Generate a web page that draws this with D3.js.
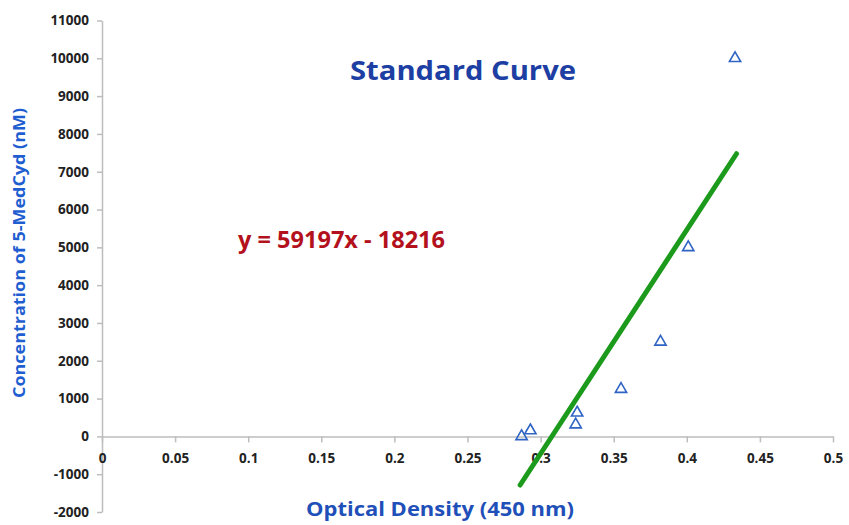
<!DOCTYPE html>
<meta charset="utf-8">
<script src="https://d3js.org/d3.v7.min.js"></script>
<style>
  body { margin: 0; background: #fff; }
  text { font-family: "Open Sans", sans-serif; }
</style>
<body>
<div id="chart"></div>
<script>
  // optical density readings and the matching standards
  var od = [0.287, 0.293, 0.324, 0.325, 0.355, 0.382, 0.401, 0.433];
  var conc = [0, 156, 312, 625, 1250, 2500, 5000, 10000];
  // trendline reported on the chart: y = 59197x - 18216
  var slope = 59197, intercept = -18216;
  var fitRange = [0.286, 0.434];
  var xTicks = [0, 0.05, 0.1, 0.15, 0.2, 0.25, 0.3, 0.35, 0.4, 0.45, 0.5];
  var yTicks = [-2000, -1000, 0, 1000, 2000, 3000, 4000, 5000, 6000, 7000, 8000, 9000, 10000, 11000];

  var W = 849, H = 525;
  var svg = d3.select("#chart").append("svg")
    .attr("width", W).attr("height", H);

  var x = d3.scaleLinear().domain([0, 0.5]).range([102, 833]);
  var y = d3.scaleLinear().domain([-2000, 11000]).range([512, 20.5]);

  // y axis
  var yAxis = svg.append("g")
    .attr("transform", "translate(" + x(0) + ",0)")
    .call(d3.axisLeft(y).tickValues(yTicks).tickSize(5).tickSizeOuter(0).tickFormat(d3.format("d")));
  yAxis.selectAll("text").style("font-size", "13.5px").style("font-weight", "bold").attr("fill", "#222")
    .text(function (d) { return d < 0 ? "-" + Math.abs(d) : d; })
    .attr("x", -13);

  // x axis at y = 0
  var xAxis = svg.append("g")
    .attr("transform", "translate(0," + y(0) + ")")
    .call(d3.axisBottom(x).tickValues(xTicks).tickSize(6).tickSizeOuter(0)
      .tickFormat(function (d) { return String(+d.toFixed(2)); }));
  xAxis.selectAll("text").style("font-size", "13.5px").style("font-weight", "bold").attr("fill", "#222")
    .attr("y", 17);

  svg.selectAll(".domain, .tick line").attr("stroke", "#bdbdbd").attr("stroke-width", 1.5);

  // trendline
  svg.append("line")
    .attr("x1", x(fitRange[0])).attr("y1", y(slope * fitRange[0] + intercept))
    .attr("x2", x(fitRange[1])).attr("y2", y(slope * fitRange[1] + intercept))
    .attr("stroke", "#1b9a1b").attr("stroke-width", 5).attr("stroke-linecap", "round");

  // hollow triangles
  var tri = d3.symbol().type(d3.symbolTriangle).size(55);
  svg.append("g").selectAll("path")
    .data(od.map(function (d, i) { return [d, conc[i]]; }))
    .enter().append("path")
    .attr("d", tri)
    .attr("transform", function (d) { return "translate(" + x(d[0]) + "," + y(d[1]) + ")"; })
    .attr("fill", "none").attr("stroke", "#2f64c4").attr("stroke-width", 1.6);

  // title and equation
  svg.append("text")
    .attr("x", 463).attr("y", 80).attr("text-anchor", "middle")
    .style("font-size", "27px").style("font-weight", "bold").attr("fill", "#1d3fa3")
    .attr("textLength", 226).attr("lengthAdjust", "spacingAndGlyphs")
    .text("Standard Curve");

  svg.append("text")
    .attr("x", 238).attr("y", 248)
    .style("font-size", "23px").style("font-weight", "bold").attr("fill", "#b3111c")
    .attr("textLength", 207).attr("lengthAdjust", "spacingAndGlyphs")
    .text("y = 59197x - 18216");

  // axis titles
  svg.append("text")
    .attr("transform", "translate(25,253) rotate(-90)").attr("text-anchor", "middle")
    .style("font-size", "16px").style("font-weight", "bold").attr("fill", "#1f5ed0")
    .attr("textLength", 290).attr("lengthAdjust", "spacingAndGlyphs")
    .text("Concentration of 5-MedCyd (nM)");

  svg.append("text")
    .attr("x", 440).attr("y", 516).attr("text-anchor", "middle")
    .style("font-size", "19px").style("font-weight", "bold").attr("fill", "#1f4fb8")
    .attr("textLength", 268).attr("lengthAdjust", "spacingAndGlyphs")
    .text("Optical Density (450 nm)");
</script>
</body>
